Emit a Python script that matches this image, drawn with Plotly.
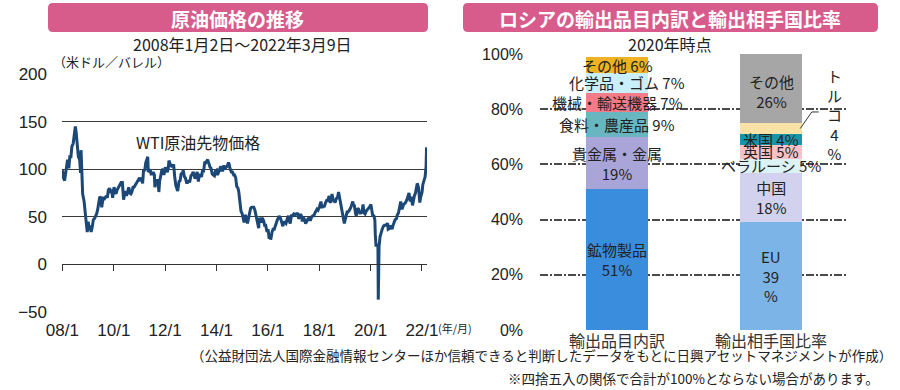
import plotly.graph_objects as go

W, H = 900, 390

# ---------------- data ----------------
wti_dates = [
    "2008-01-02","2008-01-15","2008-02-01","2008-02-15","2008-03-01","2008-03-14","2008-04-01","2008-04-15","2008-05-01","2008-05-15",
    "2008-06-02","2008-06-16","2008-07-01","2008-07-03","2008-07-15","2008-08-01","2008-08-15","2008-09-02","2008-09-15","2008-09-22",
    "2008-10-01","2008-10-15","2008-11-03","2008-11-14","2008-12-01","2008-12-19",
    "2009-01-02","2009-01-15","2009-02-02","2009-02-12","2009-03-02","2009-03-16","2009-04-01","2009-04-15","2009-05-01","2009-05-15",
    "2009-06-01","2009-06-15","2009-07-01","2009-07-13","2009-08-03","2009-08-14","2009-09-01","2009-09-15","2009-10-01","2009-10-15",
    "2009-11-02","2009-11-16","2009-12-01","2009-12-15",
    "2010-01-04","2010-01-15","2010-02-01","2010-02-16","2010-03-01","2010-03-15","2010-04-01","2010-04-15","2010-05-03","2010-05-20",
    "2010-06-01","2010-06-15","2010-07-01","2010-07-15","2010-08-02","2010-08-16","2010-09-01","2010-09-15","2010-10-01","2010-10-15",
    "2010-11-01","2010-11-15","2010-12-01","2010-12-15",
    "2011-01-03","2011-01-14","2011-02-01","2011-02-15","2011-03-01","2011-03-15","2011-04-01","2011-04-29","2011-05-06","2011-05-16",
    "2011-06-01","2011-06-15","2011-07-01","2011-07-15","2011-08-01","2011-08-08","2011-08-15","2011-09-01","2011-09-15","2011-10-03",
    "2011-10-04","2011-10-14","2011-11-01","2011-11-15","2011-12-01","2011-12-15",
    "2012-01-03","2012-01-16","2012-02-01","2012-02-15","2012-02-24","2012-03-15","2012-04-02","2012-04-16","2012-05-01","2012-05-15",
    "2012-06-01","2012-06-28","2012-07-16","2012-08-01","2012-08-15","2012-09-04","2012-09-14","2012-10-01","2012-10-15","2012-11-01",
    "2012-11-15","2012-12-03","2012-12-14",
    "2013-01-02","2013-01-15","2013-02-01","2013-02-15","2013-03-01","2013-03-15","2013-04-01","2013-04-18","2013-05-01","2013-05-15",
    "2013-06-03","2013-06-14","2013-07-01","2013-07-19","2013-08-01","2013-08-28","2013-09-03","2013-09-16","2013-10-01","2013-10-15",
    "2013-11-01","2013-11-15","2013-12-02","2013-12-16",
    "2014-01-02","2014-01-15","2014-02-03","2014-02-14","2014-03-03","2014-03-14","2014-04-01","2014-04-15","2014-05-01","2014-05-15",
    "2014-06-02","2014-06-20","2014-07-01","2014-07-15","2014-08-01","2014-08-15","2014-09-02","2014-09-15","2014-10-01","2014-10-15",
    "2014-11-03","2014-11-14","2014-12-01","2014-12-15",
    "2015-01-02","2015-01-15","2015-01-28","2015-02-13","2015-03-02","2015-03-17","2015-04-01","2015-04-15","2015-05-01","2015-05-15",
    "2015-06-01","2015-06-15","2015-07-01","2015-07-15","2015-08-03","2015-08-24","2015-08-31","2015-09-15","2015-10-01","2015-10-09",
    "2015-11-02","2015-11-16","2015-12-01","2015-12-21",
    "2016-01-04","2016-01-20","2016-02-01","2016-02-11","2016-03-01","2016-03-15","2016-04-01","2016-04-15","2016-05-02","2016-05-16",
    "2016-06-01","2016-06-09","2016-07-01","2016-07-15","2016-08-02","2016-08-15","2016-09-01","2016-09-15","2016-10-03","2016-10-19",
    "2016-11-01","2016-11-14","2016-12-01","2016-12-15",
    "2017-01-03","2017-01-17","2017-02-01","2017-02-15","2017-03-01","2017-03-14","2017-04-03","2017-04-12","2017-05-01","2017-05-04",
    "2017-05-15","2017-06-01","2017-06-21","2017-07-03","2017-07-14","2017-08-01","2017-08-15","2017-09-01","2017-09-15","2017-10-02",
    "2017-10-16","2017-11-01","2017-11-15","2017-12-01","2017-12-15",
    "2018-01-02","2018-01-25","2018-02-09","2018-02-15","2018-03-01","2018-03-15","2018-04-02","2018-04-16","2018-05-01","2018-05-22",
    "2018-06-01","2018-06-15","2018-07-02","2018-07-16","2018-08-01","2018-08-15","2018-09-04","2018-09-14","2018-10-03","2018-10-15",
    "2018-11-01","2018-11-15","2018-12-03","2018-12-24",
    "2019-01-02","2019-01-15","2019-02-01","2019-02-15","2019-03-01","2019-03-15","2019-04-01","2019-04-23","2019-05-01","2019-05-15",
    "2019-06-03","2019-06-12","2019-07-01","2019-07-15","2019-08-01","2019-08-15","2019-09-03","2019-09-16","2019-10-01","2019-10-15",
    "2019-11-01","2019-11-15","2019-12-02","2019-12-16",
    "2020-01-06","2020-01-15","2020-02-03","2020-02-14","2020-03-02","2020-03-09","2020-03-18","2020-04-01","2020-04-15","2020-04-20",
    "2020-04-21","2020-05-01","2020-05-15","2020-06-01","2020-06-15","2020-07-01","2020-07-15","2020-08-03","2020-08-14","2020-09-01",
    "2020-09-08","2020-10-01","2020-10-15","2020-11-02","2020-11-16","2020-12-01","2020-12-15",
    "2021-01-04","2021-01-15","2021-02-01","2021-02-16","2021-03-01","2021-03-05","2021-03-23","2021-04-15","2021-05-03","2021-05-14",
    "2021-06-01","2021-06-15","2021-07-01","2021-07-19","2021-08-02","2021-08-20","2021-09-01","2021-09-15","2021-10-01","2021-10-26",
    "2021-11-01","2021-11-15","2021-12-01","2021-12-15",
    "2022-01-03","2022-01-14","2022-02-01","2022-02-15","2022-03-01","2022-03-04","2022-03-08",
]
wti_values = [
    99, 91, 88, 96, 102, 110, 101, 113, 113, 124,
    127, 134, 141, 145, 138, 125, 113, 110, 96, 120,
    98, 74, 67, 57, 49, 34,
    45, 36, 41, 34, 40, 47, 48, 50, 53, 57,
    68, 71, 70, 60, 71, 68, 70, 72, 70, 78,
    80, 77, 78, 70,
    81, 79, 74, 78, 80, 81, 84, 86, 86, 68,
    73, 77, 72, 76, 81, 75, 74, 76, 81, 81,
    83, 85, 87, 88,
    91, 89, 90, 85, 100, 98, 107, 113, 97, 98,
    100, 95, 95, 97, 94, 81, 87, 88, 88, 78,
    76, 87, 92, 99, 100, 94,
    102, 99, 97, 101, 109, 105, 103, 103, 105, 93,
    83, 77, 87, 88, 95, 96, 99, 92, 91, 86,
    86, 88, 86,
    93, 94, 97, 95, 90, 93, 97, 87, 94, 94,
    92, 98, 98, 108, 107, 110, 108, 106, 102, 101,
    95, 94, 93, 98,
    99, 94, 97, 100, 103, 99, 99, 104, 100, 102,
    103, 107, 105, 100, 97, 97, 94, 94, 91, 82,
    80, 76, 66, 56,
    53, 48, 44, 52, 49, 43, 50, 56, 59, 60,
    60, 60, 57, 51, 46, 38, 49, 45, 45, 49,
    46, 41, 41, 34,
    37, 27, 31, 26, 34, 37, 37, 40, 45, 47,
    49, 51, 48, 45, 40, 45, 44, 43, 48, 51,
    46, 43, 51, 51,
    53, 52, 53, 53, 54, 48, 50, 53, 49, 45,
    49, 48, 43, 46, 46, 49, 47, 47, 50, 51,
    51, 54, 56, 58, 57,
    60, 66, 59, 61, 61, 61, 65, 67, 67, 72,
    66, 65, 74, 68, 67, 65, 70, 69, 76, 71,
    63, 56, 52, 43,
    46, 52, 55, 55, 56, 58, 61, 66, 63, 62,
    53, 51, 59, 58, 54, 54, 55, 63, 54, 53,
    56, 57, 58, 60,
    63, 58, 50, 52, 47, 31, 20, 20, 20, -37,
    10, 19, 29, 35, 37, 40, 41, 41, 42, 43,
    37, 38, 41, 37, 41, 45, 47,
    48, 52, 54, 60, 62, 66, 58, 63, 64, 65,
    68, 72, 75, 66, 71, 62, 68, 72, 75, 85,
    84, 80, 65, 71,
    76, 84, 88, 92, 103, 116, 123,
]
price_ticks = [-50, 0, 50, 100, 150, 200]
year_tick_dates = ["2008-01-01", "2010-01-01", "2012-01-01", "2014-01-01",
                   "2016-01-01", "2018-01-01", "2020-01-01", "2022-01-01"]
year_tick_labels = ["08/1", "10/1", "12/1", "14/1", "16/1", "18/1", "20/1", "22/1"]

bar_categories = ["輸出品目内訳", "輸出相手国比率"]

export_items = ["鉱物製品", "貴金属・金属", "食料・農産品", "機械・輸送機器", "化学品・ゴム", "その他"]
export_shares = [51, 19, 9, 7, 7, 6]
export_colors = ["#3a8ddd", "#a9a5d9", "#67b6c0", "#f47b88", "#c8effb", "#efb223"]
export_label_sep = ["<br>", "<br>", " ", " ", " ", " "]
export_label_xshift = [0, 0, 0, 0, 10, 0]

partner_items = ["EU", "中国", "ベラルーシ", "英国", "米国", "トルコ", "その他"]
partner_shares = [39, 18, 5, 5, 4, 4, 26]
partner_colors = ["#7cb4e8", "#d2d2ee", "#ddf2f4", "#f8c1c8", "#1795a8", "#fae2a6", "#a6a6a6"]
partner_label_sep = ["<br>", "<br>", " ", " ", " ", None, "<br>"]

pct_ticks = [0, 20, 40, 60, 80, 100]

# ---------------- helpers ----------------
def fx(px):
    return px / W

def fy(py):
    return 1 - py / H

FONT = "Liberation Sans, Arial, Noto Sans CJK JP, sans-serif"
JFONT = "Noto Sans CJK JP, sans-serif"
TXT = "#222222"

fig = go.Figure()

# ---------------- left: WTI line ----------------
fig.add_trace(go.Scatter(
    x=wti_dates, y=wti_values, mode="lines",
    line=dict(color="#1b4876", width=3),
    xaxis="x", yaxis="y", showlegend=False, hoverinfo="skip",
))
# invisible trace to carry the tick axis at y = 0
fig.add_trace(go.Scatter(
    x=[wti_dates[0]], y=[None], mode="lines",
    xaxis="x3", yaxis="y", showlegend=False, hoverinfo="skip",
))

# ---------------- right: stacked bars ----------------
cum = 0
for name, v, c, sep, xs in zip(export_items, export_shares, export_colors,
                               export_label_sep, export_label_xshift):
    fig.add_trace(go.Bar(x=[bar_categories[0]], y=[v], marker=dict(color=c, line=dict(width=0)),
                         width=0.4, xaxis="x2", yaxis="y2", showlegend=False, hoverinfo="skip"))
    fig.add_annotation(x=0, y=cum + v / 2, xref="x2", yref="y2",
                       text=f"{name}{sep}{v}%", showarrow=False, xshift=xs,
                       font=dict(family=JFONT, size=15, color=TXT))
    cum += v

cum = 0
turkey_mid = None
for name, v, c, sep in zip(partner_items, partner_shares, partner_colors, partner_label_sep):
    fig.add_trace(go.Bar(x=[bar_categories[1]], y=[v], marker=dict(color=c, line=dict(width=0)),
                         width=0.4, xaxis="x2", yaxis="y2", showlegend=False, hoverinfo="skip"))
    mid = cum + v / 2
    if sep is None:
        turkey_mid = mid
        vert = "<br>".join(list(name) + [str(v), "%"])
        fig.add_annotation(x=1.41, y=mid + 5, xref="x2", yref="y2", text=vert, showarrow=False,
                           font=dict(family=JFONT, size=15, color=TXT))
    else:
        txt = f"{name}{sep}{v}%"
        if name == "EU":
            txt = f"{name}<br>{v}<br>%"
        ys = -4 if name == "その他" else 0
        fig.add_annotation(x=1, y=mid, xref="x2", yref="y2", text=txt, showarrow=False, yshift=ys,
                           font=dict(family=JFONT, size=15, color=TXT))
    cum += v

# leader line for Turkey label
fig.add_shape(type="path", xref="x2", yref="y2",
              path=f"M 1.19,{turkey_mid} L 1.265,{turkey_mid + 6} L 1.31,{turkey_mid + 6}",
              line=dict(color="#333333", width=1))

# ---------------- banners & texts ----------------
def rounded_rect(x0, y0, x1, y1, r):
    X0, X1 = fx(x0), fx(x1)
    Y0, Y1 = fy(y0), fy(y1)
    rx, ry = r / W, r / H
    return (f"M {X0+rx},{Y0} L {X1-rx},{Y0} Q {X1},{Y0} {X1},{Y0-ry} "
            f"L {X1},{Y1+ry} Q {X1},{Y1} {X1-rx},{Y1} L {X0+rx},{Y1} "
            f"Q {X0},{Y1} {X0},{Y1+ry} L {X0},{Y0-ry} Q {X0},{Y0} {X0+rx},{Y0} Z")

BANNER = "#d75b8b"
fig.add_shape(type="path", xref="paper", yref="paper", path=rounded_rect(48, 3, 428, 32, 5),
              fillcolor=BANNER, line=dict(width=0), layer="below")
fig.add_shape(type="path", xref="paper", yref="paper", path=rounded_rect(463, 3, 878, 32, 5),
              fillcolor=BANNER, line=dict(width=0), layer="below")

def text(x, y, s, size, color=TXT, xanchor="center", bold=False, family=JFONT):
    fig.add_annotation(x=fx(x), y=fy(y), xref="paper", yref="paper", text=(f"<b>{s}</b>" if bold else s),
                       showarrow=False, xanchor=xanchor, yanchor="middle",
                       font=dict(family=family, size=size, color=color))

text(238, 18, "原油価格の推移", 19, "white", bold=True)
text(670, 18, "ロシアの輸出品目内訳と輸出相手国比率", 19, "white", bold=True)
text(242, 44, "2008年1月2日～2022年3月9日", 16)
text(670, 44, "2020年時点", 16)
text(51, 62, "（米ドル／バレル）", 13, xanchor="left")
text(198, 142, "WTI原油先物価格", 16)
text(436, 328, "(年/月)", 11, xanchor="left")
text(894, 355, "（公益財団法人国際金融情報センターほか信頼できると判断したデータをもとに日興アセットマネジメントが作成）",
     13.5, xanchor="right")
text(881, 378, "※四捨五入の関係で合計が100%とならない場合があります。", 13.5, xanchor="right")

# ---------------- layout ----------------
left_dom = [fx(62), fx(427)]
left_ydom = [fy(312), fy(74)]
zero_pos = left_ydom[0] + (0 - price_ticks[0]) / (price_ticks[-1] - price_ticks[0]) * (left_ydom[1] - left_ydom[0])
xrange_left = ["2007-12-26", "2022-03-14"]

fig.update_layout(
    width=W, height=H, margin=dict(l=0, r=0, t=0, b=0),
    paper_bgcolor="white", plot_bgcolor="rgba(0,0,0,0)",
    barmode="stack", bargap=0, showlegend=False,
    font=dict(family=FONT, color=TXT),
    xaxis=dict(domain=left_dom, type="date", range=xrange_left, anchor="y",
               tickvals=year_tick_dates, ticktext=year_tick_labels,
               showgrid=False, zeroline=False, showline=False, ticks="",
               tickfont=dict(family=FONT, size=17, color=TXT), ticklabelstandoff=6,
               automargin=False),
    xaxis3=dict(domain=left_dom, type="date", range=xrange_left, overlaying="x",
                anchor="free", position=zero_pos, side="bottom",
                tickvals=year_tick_dates, showticklabels=False,
                showgrid=False, zeroline=False, showline=True, linecolor="#333333", linewidth=1,
                ticks="outside", ticklen=6, tickcolor="#333333", tickwidth=1, automargin=False),
    yaxis=dict(domain=left_ydom, range=[price_ticks[0], price_ticks[-1]], anchor="x",
               tickvals=price_ticks, showgrid=True, gridcolor="#3a3a3a", gridwidth=1,
               zeroline=False, showline=False, ticks="",
               tickfont=dict(family=FONT, size=17, color=TXT), ticklabelstandoff=14,
               automargin=False),
    xaxis2=dict(domain=[fx(540), fx(848)], type="category", range=[-0.5, 1.5], anchor="y2",
                showgrid=False, zeroline=False, showline=False, ticks="",
                tickfont=dict(family=JFONT, size=16, color="#333333"), ticklabelstandoff=0,
                automargin=False),
    yaxis2=dict(domain=[fy(330), fy(54)], range=[0, 100], anchor="x2",
                tickvals=pct_ticks, ticktext=[f"{t}%" for t in pct_ticks],
                showgrid=True, gridcolor="#4a4a4a", gridwidth=2, griddash="8px,2px,2px,2px",
                zeroline=False, showline=False, ticks="",
                tickfont=dict(family=FONT, size=16, color=TXT), ticklabelstandoff=16,
                automargin=False),
)

fig.write_html("out.html", config={"displayModeBar": False, "staticPlot": True},
               post_script="document.body.style.margin='0';document.body.style.overflow='hidden';")
